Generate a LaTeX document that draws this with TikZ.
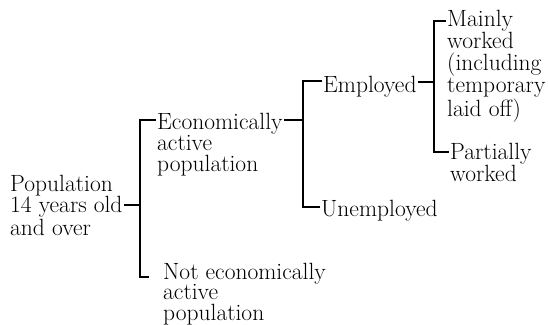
\documentclass[tikz,border=0pt]{standalone}
\usetikzlibrary{calc}
\begin{document}
\begin{tikzpicture}[x=1pt,y=1pt,
  txt/.style={anchor=base west,align=left,inner xsep=2pt,inner ysep=0pt,
    font=\fontsize{23.5}{21}\selectfont},
  wide/.style={font=\fontsize{23.5}{22}\selectfont},
  tight/.style={font=\fontsize{23.5}{20.5}\selectfont},
  conn/.style={line width=1.3pt,line cap=rect}]
\useasboundingbox (0,0) rectangle (548,-324);
% nodes (anchored at the baseline of their last line)
\node[txt] (root) at (8,-235) {Population\\14 years old\\and over};
\node[txt] (econ) at (155,-171) {Economically\\active\\population};
\node[txt,tight] (notec) at (161,-320) {Not economically\\active\\population};
\node[txt] (emp) at (321,-92) {Employed};
\node[txt] (unemp) at (319,-216) {Unemployed};
\node[txt,wide] (main) at (445,-116) {Mainly\\worked\\(including\\temporary\\laid off)};
\node[txt,wide] (part) at (448,-181) {Partially\\worked};
% joints
\coordinate (k1) at (140,-205);
\coordinate (k1t) at (140,-120);
\coordinate (k1b) at (148,-277);
\coordinate (k2) at (303,-120);
\coordinate (k2t) at (303,-81);
\coordinate (k2b) at (303,-207);
\coordinate (k3) at (434,-82);
\coordinate (k3t) at (434,-21);
\coordinate (k3b) at (434,-152);
% connectors
\draw[conn] (root.east |- k1) -- (k1);
\draw[conn] (econ.west |- k1t) -- (k1t) -- (k1t |- k1b) -- (k1b);
\draw[conn] (econ.east |- k2) -- (k2);
\draw[conn] (emp.west |- k2t) -- (k2t) -- (k2b) -- (unemp.west |- k2b);
\draw[conn] (emp.east |- k3) -- (k3);
\draw[conn] (main.west |- k3t) -- (k3t) -- (k3b) -- (part.west |- k3b);
\end{tikzpicture}
\end{document}
